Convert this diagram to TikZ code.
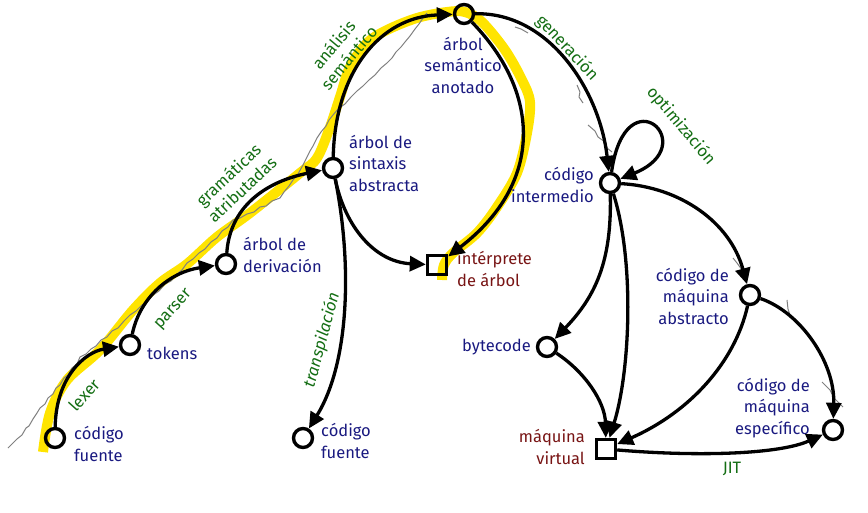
\documentclass[tikz,border=0pt]{standalone}
\usepackage{fontspec}
\setmainfont{Fira Sans}
\usetikzlibrary{arrows.meta}
\definecolor{nblue}{RGB}{25,25,128}
\definecolor{nred}{RGB}{120,20,20}
\definecolor{egreen}{RGB}{20,110,20}
\definecolor{hl}{RGB}{255,228,0}
\begin{document}
\begin{tikzpicture}[x=1pt,y=1pt,
  st/.style={circle,draw,line width=3.4pt,minimum size=19pt,inner sep=0pt},
  sq/.style={rectangle,draw,line width=3.4pt,minimum size=19pt,inner sep=0pt},
  lb/.style={text=nblue,font=\fontsize{16.5}{21.5}\selectfont,inner sep=0pt},
  lr/.style={text=nred,font=\fontsize{16.5}{21.5}\selectfont,inner sep=0pt},
  el/.style={text=egreen,font=\fontsize{16.5}{20}\selectfont,inner sep=0pt,align=center},
  ed/.style={line width=3.3pt,-{Triangle[length=16pt,width=15pt]}},
  gr/.style={gray,line width=1pt,line join=round}
]
\useasboundingbox (0,0) rectangle (868,512);
% highlight
\draw[hl,line width=10pt,line join=round] plot[smooth,tension=0.55] coordinates {
 (43,60) (50,99) (67,132) (100,162) (133,202) (160,229) (187,248) (217,275) (250,299) (300,339) (317,354) (330,385) (340,415) (350,445) (367,469) (387,482) (417,494) (447,500) (465,500) (482,490) (505,462) (522,432) (530,410) (527,379) (517,339) (497,305) (477,279) (453,259) (444,247) (442,232)};
% gray sketch line
\draw[gr] (8,64) -- (14,70) -- (17,73) -- (22,77) -- (26,84) -- (29,86) -- (33,93) -- (37,99) -- (40,104) -- (45,108) -- (48,114) -- (53,118) -- (56,124) -- (60,127) -- (64,134) -- (68,137) -- (72,144) -- (77,148) -- (80,155) -- (86,158) -- (91,163) -- (96,166) -- (101,172) -- (107,175) -- (112,181) -- (118,184) -- (124,191) -- (130,197) -- (136,201) -- (142,207) -- (147,210) -- (153,217) -- (159,221) -- (165,228) -- (171,231) -- (177,238) -- (182,242) -- (187,249) -- (193,253) -- (199,259) -- (205,263) -- (211,270) -- (217,274) -- (222,281) -- (228,285) -- (233,292) -- (240,294) -- (247,298) -- (254,300) -- (260,305) -- (266,306) -- (272,311) -- (280,314) -- (284,320) -- (289,326) -- (293,332) -- (298,338) -- (303,347) -- (306,353) -- (310,361) -- (313,366) -- (317,374) -- (321,380) -- (326,386) -- (329,392) -- (333,397) -- (339,404) -- (345,408) -- (351,415) -- (357,421) -- (363,426) -- (369,432) -- (375,437) -- (381,444) -- (387,449) -- (392,454) -- (396,460) -- (401,465) -- (405,470) -- (410,476) -- (415,483) -- (419,488) -- (423,494) -- (427,499);
\draw[gr] (577,427) -- (580,420) -- (579,415) -- (583,409);
\draw[gr] (588,387) -- (595,381) -- (598,375) -- (605,370) -- (607,364) -- (612,360);
\draw[gr] (515,485) -- (521,483) -- (528,479);
\draw[gr] (733,254) -- (737,249) -- (742,242);
\draw[gr] (787,212) -- (788,203) -- (791,194);
\draw[gr] (822,130) -- (830,122) -- (834,114) -- (843,105);
% nodes
\node[st] (cf1) at (55,74) {};
\node[st] (tok) at (130,167) {};
\node[st] (der) at (226,248) {};
\node[st] (ast) at (333,344) {};
\node[st] (sem) at (464,498) {};
\node[sq] (int) at (437,247) {};
\node[st] (cf2) at (303,74) {};
\node[st] (ci) at (610,329) {};
\node[st] (cma) at (750,217) {};
\node[st] (byt) at (547,165) {};
\node[sq] (mv) at (606,63) {};
\node[st] (cme) at (833,82) {};
% node labels
\node[lb,anchor=west,align=left] (lcf1) at (74,68) {código\\fuente};
\node[lb,anchor=west] (ltok) at (147,159) {tokens};
\node[lb,anchor=west,align=left] (lder) at (243,257) {árbol de\\derivación};
\node[lb,anchor=west,align=left] (last) at (349,349) {árbol de\\sintaxis\\abstracta};
\node[lb,align=center] (lsem) at (463,447) {árbol\\semántico\\anotado};
\node[lr,anchor=west,align=left] (lint) at (457,243) {intérprete\\de árbol};
\node[lb,anchor=west,align=left] (lcf2) at (321,71) {código\\fuente};
\node[lb,anchor=east,align=right] (lci) at (594,327) {código\\intermedio};
\node[lb,anchor=east,align=right] (lcma) at (729,216) {código de\\máquina\\abstracto};
\node[lb,anchor=east] (lbyt) at (531,165) {bytecode};
\node[lr,anchor=east,align=right] (lmv) at (585,65) {máquina\\virtual};
\node[lb,anchor=east,align=right] (lcme) at (810,104) {código de\\máquina\\específico};
% edges
\draw[ed] (cf1) .. controls (56,135) and (85,160) .. (tok);
\draw[ed] (tok) .. controls (140,215) and (170,240) .. (der);
\draw[ed] (der) .. controls (230,305) and (265,330) .. (ast);
\draw[ed] (ast) .. controls (335,440) and (380,495) .. (sem);
\draw[ed] (sem) .. controls (540,420) and (545,330) .. (int);
\draw[ed] (ast) .. controls (345,285) and (375,250) .. (int);
\draw[ed] (ast) .. controls (352,250) and (350,150) .. (cf2);
\draw[ed] (sem) .. controls (550,500) and (600,420) .. (ci);
\draw[ed] (ci.82) .. controls +(82:100) and +(22:90) .. (ci.22);
\draw[ed] (ci) .. controls (680,325) and (730,290) .. (cma);
\draw[ed] (ci) .. controls (612,250) and (595,215) .. (byt);
\draw[ed] (ci) .. controls (635,250) and (630,140) .. (mv);
\draw[ed] (byt) .. controls (585,140) and (605,110) .. (mv);
\draw[ed] (cma) .. controls (735,150) and (690,100) .. (mv);
\draw[ed] (cma) .. controls (800,200) and (835,150) .. (cme);
\draw[ed] (mv) .. controls (700,55) and (780,58) .. (cme);
% edge labels
\node[el,rotate=48] (elex) at (84,117) {lexer};
\node[el,rotate=48] (epar) at (174,202) {parser};
\node[el,rotate=43] (egra) at (235,330) {gramáticas\\atributadas};
\node[el,rotate=50] (esem) at (341,461) {análisis\\semántico};
\node[el,rotate=-47] (egen) at (567,464) {generación};
\node[el,rotate=-50] (eopt) at (681,386) {optimización};
\node[el,rotate=75,font=\fontsize{16.5}{20}\selectfont\itshape] (etra) at (322,172) {transpilación};
\node[el] (ejit) at (732,43) {JIT};
\end{tikzpicture}
\end{document}
